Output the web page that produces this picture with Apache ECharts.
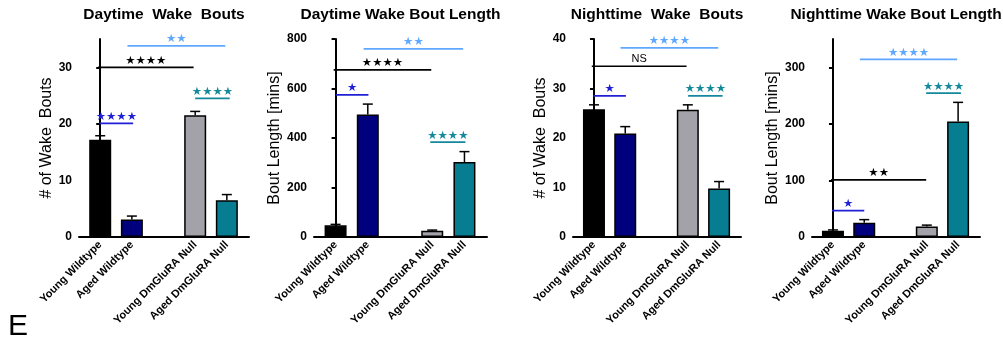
<!DOCTYPE html>
<html><head><meta charset="utf-8">
<script src="https://cdn.jsdelivr.net/npm/echarts@6/dist/echarts.min.js"></script>
<style>html,body{margin:0;padding:0;background:#fff}#c{width:1003px;height:345px}</style>
</head><body><div id="c"></div>
<script>
// ---- data ----
const categories = ['Young Wildtype', 'Aged Wildtype', '', 'Young DmGluRA Null', 'Aged DmGluRA Null'];
const titles = ['Daytime  Wake  Bouts', 'Daytime Wake Bout Length', 'Nighttime  Wake  Bouts', 'Nighttime Wake Bout Length'];
const yNames = ['# of Wake  Bouts', 'Bout Length [mins]', '# of Wake  Bouts', 'Bout Length [mins]'];

const dayBouts      = [17.2, 3.1, null, 21.5, 6.5];
const dayBoutsSem   = [0.7, 0.6, null, 0.7, 1.0];
const dayLength     = [47, 495, null, 25, 303];
const dayLengthSem  = [4, 42, null, 3, 42];
const nightBouts    = [25.8, 20.9, null, 25.7, 9.8];
const nightBoutsSem = [0.9, 1.4, null, 1.0, 1.4];
const nightLength   = [11, 25.4, null, 18.5, 204];
const nightLengthSem= [1.5, 5.3, null, 2.5, 34];

const yMax = [35, 800, 40, 350];
const yTicks1 = [0, 10, 20, 30];
const yTicks2 = [0, 200, 400, 600, 800];
const yTicks3 = [0, 10, 20, 30, 40];
const yTicks4 = [0, 100, 200, 300];

// significance brackets: [from, to, level, label, colour key]
const sig1 = [[-0.02, 1.04, 20.1, '★★★★', 'blue'], [-0.07, 2.95, 30, '★★★★', 'black'], [0.86, 3.95, 33.8, '★★', 'light'], [3.0, 4.09, 24.5, '★★★★', 'teal']];
const sig2 = [[0.01, 1.02, 574, '★', 'blue'], [-0.06, 2.97, 675, '★★★★', 'black'], [0.87, 3.96, 760, '★★', 'light'], [2.94, 4.03, 383, '★★★★', 'teal']];
const sig3 = [[-0.02, 1.02, 28.5, '★', 'blue'], [-0.07, 2.96, 34.5, 'NS', 'black'], [0.85, 3.97, 38.2, '★★★★', 'light'], [3.01, 4.11, 28.5, '★★★★', 'teal']];
const sig4 = [[-0.03, 1.0, 46.7, '★', 'blue'], [-0.06, 2.98, 101, '★★', 'black'], [0.86, 3.97, 314, '★★★★', 'light'], [2.98, 4.09, 254.5, '★★★★', 'teal']];

// ---- styles ----
const barColors = ['#000000', '#00007e', '#ffffff', '#a2a2a8', '#067d91'];
const sigColors = { blue: '#1f1fd6', black: '#000000', light: '#5ea8ff', teal: '#13899b' };
const FONT = '"Liberation Sans", Arial, Helvetica, sans-serif';

const panels = [
  { means: dayBouts, sems: dayBoutsSem, ticks: yTicks1, sig: sig1, left: 79, width: 170, nameGap: 23 },
  { means: dayLength, sems: dayLengthSem, ticks: yTicks2, sig: sig2, left: 314, width: 173, nameGap: 31 },
  { means: nightBouts, sems: nightBoutsSem, ticks: yTicks3, sig: sig3, left: 573, width: 168, nameGap: 22 },
  { means: nightLength, sems: nightLengthSem, ticks: yTicks4, sig: sig4, left: 812, width: 168, nameGap: 29 }
];

const catIdx = categories.map((c, i) => i).filter(i => categories[i] !== '');

const grid = [], xAxis = [], yAxis = [], series = [], title = [];
panels.forEach((p, k) => {
  grid.push({ left: p.left, width: p.width, top: 39, bottom: 108 });
  title.push({
    text: titles[k], left: p.left + p.width / 2, top: 7, textAlign: 'center', padding: 0,
    textStyle: { fontFamily: FONT, fontWeight: 'bold', fontSize: 15.5, color: '#000' }
  });
  xAxis.push({
    type: 'value', gridIndex: k, min: -0.67, max: 4.7, splitLine: { show: false },
    axisLine: { show: true, onZero: false, lineStyle: { color: '#000', width: 2 } },
    axisTick: { show: false },
    axisLabel: {
      customValues: catIdx, rotate: 45, margin: 6, interval: 0,
      formatter: v => categories[Math.round(v)] || '',
      fontFamily: FONT, fontWeight: 'bold', fontSize: 11, color: '#000'
    }
  });
  yAxis.push({
    type: 'value', gridIndex: k, min: 0, max: yMax[k], splitLine: { show: false },
    name: yNames[k], nameLocation: 'middle', nameGap: p.nameGap,
    nameTextStyle: { fontFamily: FONT, fontSize: 16, color: '#000' },
    axisLine: { show: true, lineStyle: { color: '#000', width: 2 } },
    axisTick: { show: true, length: 4, customValues: p.ticks, lineStyle: { color: '#000', width: 2 } },
    axisLabel: { customValues: p.ticks, margin: 7, fontFamily: FONT, fontWeight: 'bold', fontSize: 12, color: '#000' }
  });
  const barData = catIdx.map(i => ({ value: [i, p.means[i]], itemStyle: { color: barColors[i] } }));
  series.push({
    type: 'bar', xAxisIndex: k, yAxisIndex: k, barWidth: 22, data: barData,
    itemStyle: { borderColor: '#000', borderWidth: 1.5 }, animation: false
  });
  series.push({
    type: 'custom', xAxisIndex: k, yAxisIndex: k, z: 3, animation: false, clip: false,
    data: catIdx.map(i => [i, p.means[i], p.means[i] + p.sems[i]]),
    encode: { x: 0, y: [1, 2] },
    renderItem: (params, api) => {
      const b = api.coord([api.value(0), api.value(1)]);
      const t = api.coord([api.value(0), api.value(2)]);
      const st = { stroke: '#000', lineWidth: 1.5 };
      return { type: 'group', children: [
        { type: 'line', shape: { x1: b[0], y1: b[1], x2: t[0], y2: t[1] }, style: st },
        { type: 'line', shape: { x1: t[0] - 5, y1: t[1], x2: t[0] + 5, y2: t[1] }, style: st }
      ]};
    }
  });
  series.push({
    type: 'custom', xAxisIndex: k, yAxisIndex: k, z: 4, animation: false, clip: false,
    data: p.sig.map(s => [s[0], s[1], s[2]]),
    encode: { x: [0, 1], y: 2 },
    renderItem: (params, api) => {
      const s = p.sig[params.dataIndex];
      const a = api.coord([api.value(0), api.value(2)]);
      const b = api.coord([api.value(1), api.value(2)]);
      const col = sigColors[s[4]];
      const isNS = s[3] === 'NS';
      return { type: 'group', children: [
        { type: 'line', shape: { x1: a[0], y1: a[1], x2: b[0], y2: b[1] }, style: { stroke: col, lineWidth: 1.7 } },
        { type: 'text', style: {
            text: s[3], x: (a[0] + b[0]) / 2, y: a[1] - (isNS ? 7 : 6.5), align: 'center', verticalAlign: 'middle',
            fill: col, fontSize: isNS ? 11 : 11.5, fontFamily: isNS ? FONT : '"DejaVu Sans", sans-serif'
        } }
      ]};
    }
  });
});

const chart = echarts.init(document.getElementById('c'), null, { renderer: 'canvas' });
chart.setOption({
  backgroundColor: '#fff', animation: false,
  title, grid, xAxis, yAxis, series,
  graphic: [{ type: 'text', left: 8, top: 312, style: { text: 'E', fontFamily: FONT, fontSize: 30, fill: '#000' } }]
});
</script>
</body></html>
